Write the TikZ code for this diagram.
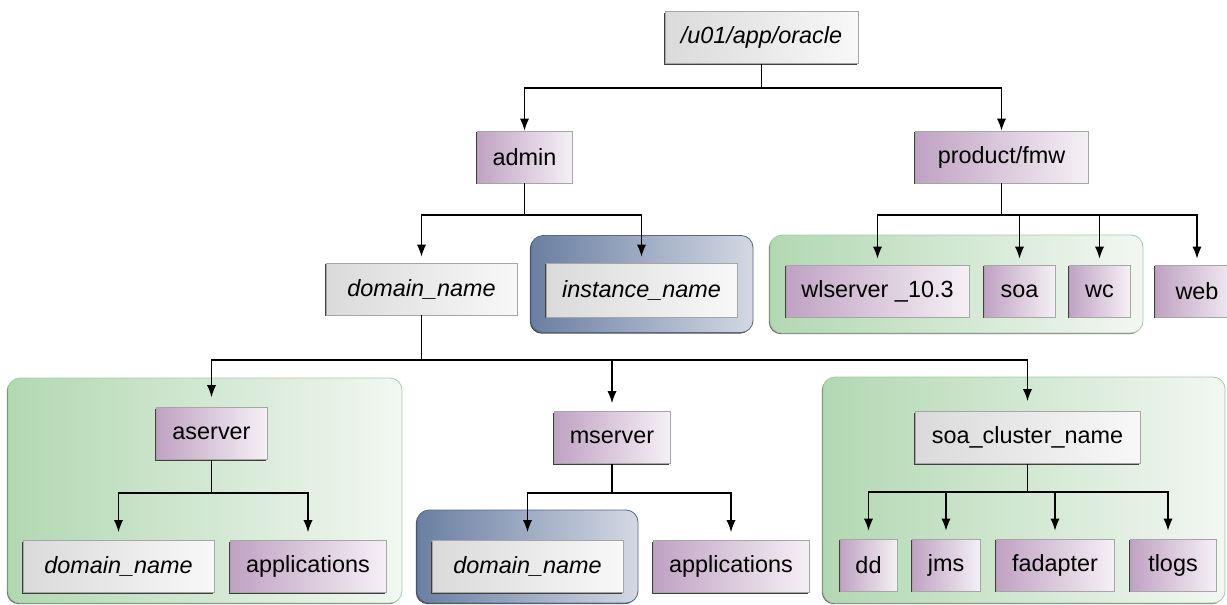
\documentclass[tikz,border=0pt]{standalone}
\usepackage{fontspec}
\setmainfont{Liberation Sans}
\usetikzlibrary{shadows, arrows.meta}

\definecolor{plumdark}{HTML}{C0A2C3}
\definecolor{plumlight}{HTML}{F5F0F5}
\definecolor{greydark}{HTML}{DADADA}
\definecolor{greylight}{HTML}{F8F8F8}
\definecolor{leafdark}{HTML}{B2D8B2}
\definecolor{leaflight}{HTML}{F2F7F2}
\definecolor{leafedge}{HTML}{A3CBA3}
\definecolor{slatedark}{HTML}{6A7FA2}
\definecolor{slatelight}{HTML}{D3D8E3}
\definecolor{slateedge}{HTML}{56688A}

\begin{document}
\begin{tikzpicture}[x=0.5pt, y=-0.5pt, >={Latex[length=6pt, width=4.6pt]},
                    link/.style={line width=0.6pt},
                    folder/.style={rectangle, draw=black!35, inner sep=0pt,
                                   minimum height=26pt,
                                   drop shadow={shadow xshift=-0.7pt, shadow yshift=-0.7pt,
                                                fill=black!75, opacity=1}},
                    plum/.style={folder, left color=plumdark, right color=plumlight},
                    grey/.style={folder, left color=greydark, right color=greylight},
                    italic/.style={font=\fontsize{11.7pt}{14pt}\selectfont\itshape},
                    leafgroup/.style={rectangle, rounded corners=6pt, draw=leafedge,
                                      left color=leafdark, right color=leaflight,
                                      drop shadow={shadow xshift=-0.6pt, shadow yshift=-0.6pt,
                                                   fill=black!55, opacity=1}},
                    slategroup/.style={rectangle, rounded corners=6pt, draw=slateedge,
                                       left color=slatedark, right color=slatelight,
                                       drop shadow={shadow xshift=-0.6pt, shadow yshift=-0.6pt,
                                                    fill=black!70, opacity=1}},
                    font=\fontsize{11.7pt}{14pt}\selectfont]
  \useasboundingbox (0, 0) rectangle (1227, 605);

  % Groups.
  \node at (642, 284) [slategroup, minimum width=111pt, minimum height=48.5pt, name=InstanceGroup] {};
  \node at (956.5, 284) [leafgroup, minimum width=186.5pt, minimum height=49pt, name=ProductGroup] {};
  \node at (205, 490.5) [leafgroup, minimum width=197pt, minimum height=112.5pt, name=AdminServerGroup] {};
  \node at (527.5, 556.5) [slategroup, minimum width=110.5pt, minimum height=46.5pt, name=ManagedDomainGroup] {};
  \node at (1024, 490) [leafgroup, minimum width=201pt, minimum height=113pt, name=ClusterGroup] {};

  % Folders.
  \node at (761.5, 37.5) [grey, minimum width=96.5pt, italic, name=Oracle] {/u01/app/oracle};
  \node at (524.5, 157) [plum, minimum width=47.5pt, name=Admin] {admin};
  \node at (1001.5, 157) [plum, minimum width=86.5pt, name=Product] {product/fmw};
  \node at (421.5, 289) [grey, minimum width=95.5pt, italic, name=Domain] {domain\_name};
  \node at (641.5, 290) [grey, minimum width=95.5pt, minimum height=27pt, italic, name=Instance] {instance\_name};
  \node at (877.5, 291) [plum, minimum width=91.5pt, name=WLServer] {wlserver \_10.3};
  \node at (1019.5, 291) [plum, minimum width=35.5pt, name=Soa] {soa};
  \node at (1099.5, 291) [plum, minimum width=30.5pt, name=WC] {wc};
  \node at (1197, 291) [plum, minimum width=42pt, name=Web] {web};
  \node at (211.5, 433.5) [plum, minimum width=55.5pt, name=AServer] {aserver};
  \node at (118.5, 566.5) [grey, minimum width=95.5pt, italic, name=ADomain] {domain\_name};
  \node at (308, 566.5) [plum, minimum width=78pt, name=AApps] {applications};
  \node at (612, 437.5) [plum, minimum width=58pt, name=MServer] {mserver};
  \node at (527.5, 566.5) [grey, minimum width=95.5pt, italic, name=MDomain] {domain\_name};
  \node at (731, 566.5) [plum, minimum width=78pt, name=MApps] {applications};
  \node at (1027.5, 437.5) [grey, minimum width=112.5pt, name=Cluster] {soa\_cluster\_name};
  \node at (868.5, 565) [plum, minimum width=28.5pt, name=DD] {dd};
  \node at (946, 565) [plum, minimum width=34pt, name=JMS] {jms};
  \node at (1055, 565) [plum, minimum width=59pt, name=FAdapter] {fadapter};
  \node at (1173, 565) [plum, minimum width=43pt, name=TLogs] {tlogs};

  % Branch points.
  \coordinate (oraclebranch) at (761.5, 88);
  \coordinate (adminbranch) at (524.5, 215);
  \coordinate (productbranch) at (1001.5, 215);
  \coordinate (domainbranch) at (421.5, 360);
  \coordinate (aserverbranch) at (211.5, 493);
  \coordinate (mserverbranch) at (612, 493);
  \coordinate (clusterbranch) at (1027.5, 492);

  % Tree.
  \draw [link] (Oracle) -- (oraclebranch);
  \draw [link, ->] (oraclebranch) -| (Admin);
  \draw [link, ->] (oraclebranch) -| (Product);

  \draw [link] (Admin) -- (adminbranch);
  \draw [link, ->, shorten >=3pt] (adminbranch) -| (Domain);
  \draw [link, ->, shorten >=3pt] (adminbranch) -| (Instance);

  \draw [link] (Product) -- (productbranch);
  \draw [link, ->, shorten >=3pt] (productbranch) -| (WLServer);
  \draw [link, ->, shorten >=3pt] (productbranch) -| (Soa);
  \draw [link, ->, shorten >=3pt] (productbranch) -| (WC);
  \draw [link, ->, shorten >=3pt] (productbranch) -| (Web);

  \draw [link] (Domain) -- (domainbranch);
  \draw [link, ->, shorten >=5pt] (domainbranch) -| (AServer);
  \draw [link, ->, shorten >=4pt] (domainbranch) -| (MServer);
  \draw [link, ->, shorten >=5pt] (domainbranch) -| (Cluster);

  \draw [link] (AServer) -- (aserverbranch);
  \draw [link, ->, shorten >=4pt] (aserverbranch) -| (ADomain);
  \draw [link, ->, shorten >=4pt] (aserverbranch) -| (AApps);

  \draw [link] (MServer) -- (mserverbranch);
  \draw [link, ->, shorten >=4pt] (mserverbranch) -| (MDomain);
  \draw [link, ->, shorten >=4pt] (mserverbranch) -| (MApps);

  \draw [link] (Cluster) -- (clusterbranch);
  \draw [link, ->, shorten >=4pt] (clusterbranch) -| (DD);
  \draw [link, ->, shorten >=4pt] (clusterbranch) -| (JMS);
  \draw [link, ->, shorten >=4pt] (clusterbranch) -| (FAdapter);
  \draw [link, ->, shorten >=4pt] (clusterbranch) -| ([xshift=-2.5pt]TLogs.north);
\end{tikzpicture}
\end{document}
